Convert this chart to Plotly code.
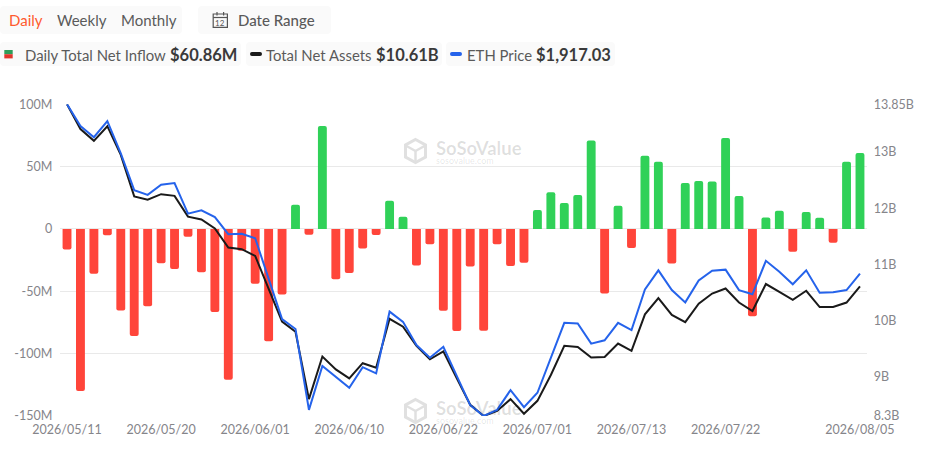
import plotly.graph_objects as go

dates = ["2026/05/11","2026/05/12","2026/05/13","2026/05/14","2026/05/15","2026/05/18","2026/05/19","2026/05/20","2026/05/21","2026/05/22",
"2026/05/26","2026/05/27","2026/05/28","2026/05/29","2026/06/01","2026/06/02","2026/06/03","2026/06/04","2026/06/05","2026/06/08",
"2026/06/09","2026/06/10","2026/06/11","2026/06/12","2026/06/15","2026/06/16","2026/06/17","2026/06/18","2026/06/22","2026/06/23",
"2026/06/24","2026/06/25","2026/06/26","2026/06/29","2026/06/30","2026/07/01","2026/07/02","2026/07/06","2026/07/07","2026/07/08",
"2026/07/09","2026/07/10","2026/07/13","2026/07/14","2026/07/15","2026/07/16","2026/07/17","2026/07/20","2026/07/21","2026/07/22",
"2026/07/23","2026/07/24","2026/07/27","2026/07/28","2026/07/29","2026/07/30","2026/07/31","2026/08/03","2026/08/04","2026/08/05"]
net_inflow = [-16.4,-130,-35.9,-5,-65.3,-85.9,-62,-27.5,-32,-6.2,-34.7,-66.6,-121,-17.4,-44,-90,-52.5,19.5,-4.6,82.5,
-40.4,-35.3,-15.6,-4.8,22.7,9.9,-29.2,-12.3,-65.6,-81.9,-30,-81.6,-12.3,-29.7,-27,15.2,29.4,20.8,27.3,70.9,
-51.7,18.7,-15.2,58.8,54,-27.6,36.9,38.5,38,73,26.5,-70,9.3,14.7,-18.2,13.6,9,-11,54,60.86]
net_assets = [13.85,13.41,13.20,13.46,12.95,12.21,12.15,12.25,12.22,11.85,11.80,11.64,11.30,11.27,11.15,10.56,9.98,9.80,8.60,9.36,
9.13,8.97,9.24,9.16,10.03,9.89,9.55,9.31,9.45,8.97,8.50,8.30,8.39,8.60,8.34,8.57,9.03,9.55,9.53,9.34,
9.35,9.59,9.46,10.11,10.40,10.10,9.97,10.30,10.48,10.57,10.32,10.17,10.65,10.51,10.37,10.53,10.24,10.24,10.32,10.61]
eth_price = [2414,2350,2317,2364,2270,2162,2148,2178,2183,2093,2103,2083,2033,2034,2021,1904,1784,1755,1518,1647,
1615,1583,1643,1625,1806,1776,1708,1671,1703,1620,1532,1500,1518,1576,1526,1568,1669,1773,1771,1712,
1722,1773,1752,1871,1927,1869,1833,1897,1926,1929,1869,1857,1955,1923,1886,1927,1861,1863,1869,1917.03]
x_ticks = ["2026/05/11","2026/05/20","2026/06/01","2026/06/10","2026/06/22","2026/07/01","2026/07/13","2026/07/22","2026/08/05"]
left_ticks = [-150,-100,-50,0,50,100]
left_labels = ["-150M","-100M","-50M","0","50M","100M"]
right_ticks = [8.3,9,10,11,12,13,13.85]
right_labels = ["8.3B","9B","10B","11B","12B","13B","13.85B"]

W, H = 938, 456
FONT = "Lato"
GREY = "#85858a"
RED, GREEN = "#ff453a", "#30d158"
BLACK, BLUE = "#1a1a1a", "#2563eb"
TICK_FONT = dict(family=FONT, size=12.5, color=GREY)

def px(v): return v / W
def py(v): return 1 - v / H

fig = go.Figure()
fig.add_trace(go.Bar(x=dates, y=net_inflow, yaxis="y", width=0.66,
                     marker=dict(color=[GREEN if v >= 0 else RED for v in net_inflow], line_width=0),
                     hoverinfo="skip", showlegend=False))
fig.add_trace(go.Scatter(x=dates, y=net_assets, yaxis="y2", mode="lines",
                         line=dict(color=BLACK, width=2), hoverinfo="skip", showlegend=False))
fig.add_trace(go.Scatter(x=dates, y=eth_price, yaxis="y3", mode="lines",
                         line=dict(color=BLUE, width=2), hoverinfo="skip", showlegend=False))

shapes, notes = [], []
def rect(x0, y0, x1, y1, color, line=None, lw=0, r=None, layer="below"):
    if r:
        path = (f"M{px(x0+r)},{py(y0)} L{px(x1-r)},{py(y0)} Q{px(x1)},{py(y0)} {px(x1)},{py(y0+r)} "
                f"L{px(x1)},{py(y1-r)} Q{px(x1)},{py(y1)} {px(x1-r)},{py(y1)} L{px(x0+r)},{py(y1)} "
                f"Q{px(x0)},{py(y1)} {px(x0)},{py(y1-r)} L{px(x0)},{py(y0+r)} Q{px(x0)},{py(y0)} {px(x0+r)},{py(y0)} Z")
        shapes.append(dict(type="path", path=path, xref="paper", yref="paper", fillcolor=color,
                           line=dict(width=lw, color=line or color), layer=layer))
    else:
        shapes.append(dict(type="rect", xref="paper", yref="paper", x0=px(x0), x1=px(x1), y0=py(y0), y1=py(y1),
                           fillcolor=color, line=dict(width=lw, color=line or color), layer=layer))
def seg(x0, y0, x1, y1, color="#555555", lw=1.2):
    shapes.append(dict(type="line", xref="paper", yref="paper", x0=px(x0), x1=px(x1), y0=py(y0), y1=py(y1),
                       line=dict(color=color, width=lw)))
def text(x, y, s, size=15, color="#5a5a5a", anchor="left", weight=400):
    notes.append(dict(x=px(x), y=py(y), xref="paper", yref="paper", text=s, showarrow=False, xanchor=anchor,
                      yanchor="middle", borderpad=0, borderwidth=0,
                      font=dict(family=FONT, size=size, color=color, weight=weight)))

PANEL = "#fafafa"
rect(0, 6, 182, 34, PANEL, r=4)
rect(198, 6, 331, 34, PANEL, r=4)
rect(0, 42, 241, 66, PANEL, r=4)
rect(246, 42, 442, 66, PANEL, r=4)
rect(446, 42, 615, 66, PANEL, r=4)
text(9, 20.5, "Daily", color="#ff5a2e")
text(57, 20.5, "Weekly")
text(121, 20.5, "Monthly")
text(238, 20.5, "Date Range", weight=500)
# calendar icon
rect(213.2, 14, 227.4, 27.3, "rgba(0,0,0,0)", line="#555555", lw=1.2)
seg(213.2, 17.5, 227.4, 17.5)
seg(217, 12, 217, 15.5)
seg(223.6, 12, 223.6, 15.5)
text(220.3, 22.7, "12", size=8, anchor="center", color="#555555")
# legend
rect(4.3, 50, 12.7, 54.2, "#2e9e5a")
rect(4.3, 54.2, 12.7, 58.4, "#e0362c")
text(25, 55, "Daily Total Net Inflow", size=14.9)
text(170, 55, "$60.86M", size=16.5, color="#3a3a3a", weight=700)
rect(250, 52, 262, 56, BLACK, r=1.9)
text(266, 55, "Total Net Assets", size=14.9)
text(375.5, 55, "$10.61B", size=16.5, color="#3a3a3a", weight=700)
rect(450, 52, 462, 56, BLUE, r=1.9)
text(466.7, 55, "ETH Price", size=14.9)
text(536, 55, "$1,917.03", size=16.5, color="#3a3a3a", weight=700)
# watermarks
for wy in (151, 411):
    text(435.5, wy - 3, "SoSoValue", size=18.5, color="rgba(0,0,0,0.13)", weight=700)
    text(436, wy + 9, "sosovalue.com", size=9, color="rgba(0,0,0,0.11)")
    hx, hy = 415.5, wy
    path = (f"M{px(hx)},{py(hy-11.5)} L{px(hx+10)},{py(hy-6)} L{px(hx+10)},{py(hy+6)} L{px(hx)},{py(hy+11.5)} "
            f"L{px(hx-10)},{py(hy+6)} L{px(hx-10)},{py(hy-6)} Z")
    shapes.append(dict(type="path", path=path, xref="paper", yref="paper", fillcolor="rgba(0,0,0,0)",
                       line=dict(color="#e0e0e0", width=3), layer="below"))
    seg(hx - 9, wy - 5, hx, wy, color="#e0e0e0", lw=2.5)
    seg(hx + 9, wy - 5, hx, wy, color="#e0e0e0", lw=2.5)
    seg(hx, wy, hx, wy + 10, color="#e0e0e0", lw=2.5)
    shapes[-1]["layer"] = shapes[-2]["layer"] = shapes[-3]["layer"] = "below"

y_domain = [40 / H, (H - 104.3) / H]
fig.update_layout(
    width=W, height=H, margin=dict(l=0, r=0, t=0, b=0, pad=0), autosize=False,
    paper_bgcolor="white", plot_bgcolor="rgba(0,0,0,0)", barcornerradius=2,
    font=dict(family=FONT, size=13, color=GREY),
    shapes=shapes, annotations=notes,
    xaxis=dict(domain=[60.3 / W, 866.7 / W], type="category", categoryorder="array", categoryarray=dates,
               range=[-0.5, 59.5], tickmode="array", tickvals=x_ticks, ticktext=x_ticks, ticks="",
               showgrid=False, showline=False, zeroline=False, tickangle=0, automargin=False,
               ticklabelstandoff=4, tickfont=TICK_FONT),
    yaxis=dict(domain=y_domain, range=[-150, 100], tickmode="array", tickvals=left_ticks,
               ticktext=left_labels, showgrid=True, gridcolor="#e9e9e9", gridwidth=1, zeroline=False,
               automargin=False, ticklabelstandoff=7, tickfont=TICK_FONT),
    yaxis2=dict(domain=y_domain, range=[8.3, 13.85], overlaying="y", side="right", automargin=False,
                anchor="x", tickmode="array", tickvals=right_ticks, ticktext=right_labels, showgrid=False,
                zeroline=False, ticklabelstandoff=6, tickfont=TICK_FONT),
    yaxis3=dict(domain=y_domain, range=[1500, 2413.6], overlaying="y", visible=False, automargin=False),
)
fig.write_html("out.html", config={"displayModeBar": False},
               post_script="document.body.style.margin='0';document.body.style.overflow='hidden';")
